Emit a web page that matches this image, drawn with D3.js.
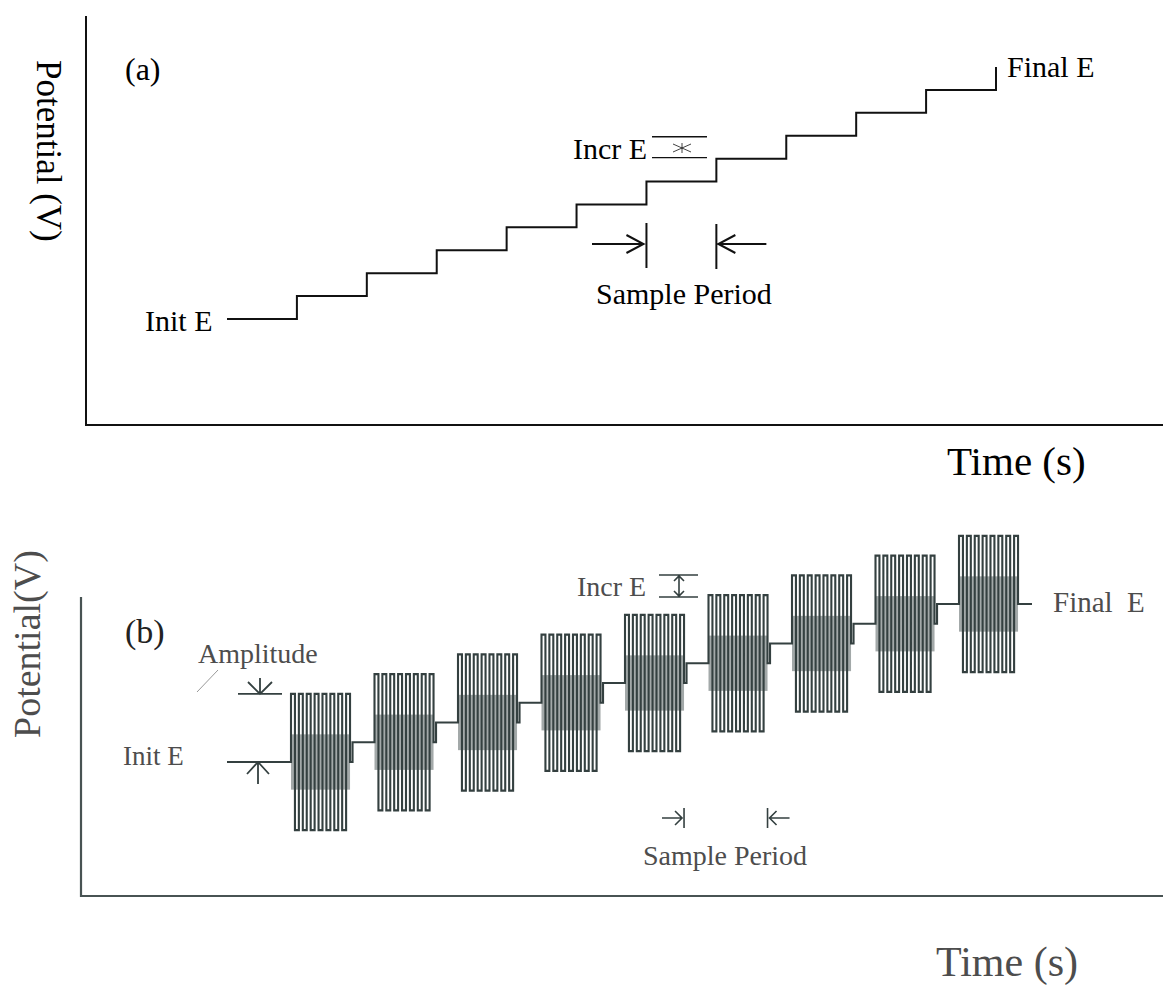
<!DOCTYPE html>
<html>
<head>
<meta charset="utf-8">
<script src="https://cdn.jsdelivr.net/npm/d3@7"></script>
<style>
  body { margin: 0; background: #fff; }
  text { font-family: "Liberation Serif", "Times New Roman", serif; }
</style>
</head>
<body>
<svg id="chart" width="1163" height="985"></svg>
<script>
// (a) staircase: step times (sample periods) and potential levels (Incr E units)
const stairTimes = [0, 1, 2, 3, 4, 5, 6, 7, 8, 9, 10, 11]
const stairLevels = [0, 1, 2, 3, 4, 5, 6, 7, 8, 9, 10, 11]

// (b) square wave riding on the staircase
const blockStarts = [0, 1, 2, 3, 4, 5, 6, 7, 8]
const blockLevels = [0, 1, 2, 3, 4, 5, 6, 7, 8]
const blockWidth = 0.707      // fraction of a sample period
const blockAmp = 3.45         // amplitude in Incr E units
const blockEdges = 15         // square-wave edges per block
const initTimeB = -0.766
const finalTimeB = 8.874

const svg = d3.select('#chart')
const black = '#111'
const scan = '#344040'
const scanText = '#4d4d4d'

// ---------- panel (a) ----------
const xA = d3.scaleLinear().domain([0, 11]).range([227, 996])
const yA = d3.scaleLinear().domain([0, 11]).range([319, 67])

const gA = svg.append('g')

// axes
gA.append('path')
  .attr('d', 'M86,16 V425 H1163')
  .attr('fill', 'none').attr('stroke', black).attr('stroke-width', 2)

const stairLine = d3.line()
  .x(d => xA(d[0]))
  .y(d => yA(d[1]))
  .curve(d3.curveStepAfter)

gA.append('path')
  .datum(stairTimes.map((t, i) => [t, stairLevels[i]]))
  .attr('d', stairLine)
  .attr('fill', 'none').attr('stroke', black).attr('stroke-width', 2)

gA.append('text').attr('x', 125).attr('y', 80).attr('font-size', 32).text('(a)')
gA.append('text').attr('x', 145).attr('y', 331).attr('font-size', 30).text('Init E')
gA.append('text').attr('x', 1007).attr('y', 77).attr('font-size', 30).text('Final E')
gA.append('text').attr('x', 573).attr('y', 159).attr('font-size', 30).text('Incr E')
gA.append('text').attr('x', 596).attr('y', 304).attr('font-size', 30).text('Sample Period')
gA.append('text').attr('x', 947).attr('y', 475).attr('font-size', 41).text('Time (s)')
gA.append('text')
  .attr('transform', 'translate(37,60) rotate(90)')
  .attr('font-size', 35).text('Potential (V)')

// Incr E marker
const incrTop = yA(8) + 1, incrBot = yA(7) - 1
gA.append('path')
  .attr('d', `M652,${incrTop} H707 M652,${incrBot} H707`)
  .attr('stroke', black).attr('stroke-width', 1.3).attr('fill', 'none')
gA.append('path')
  .attr('d', 'M682,143 V153 M673,144 L691,152 M673,152 L691,144')
  .attr('stroke', black).attr('stroke-width', 0.8).attr('fill', 'none')

// Sample Period arrows
const spL = xA(6), spR = xA(7)
gA.append('path')
  .attr('d', `M${spL},223 V268 M${spR},224 V269 M592,244 H${spL - 3} M${spL - 20},235 L${spL - 3},244 L${spL - 20},253 M${spR + 50},244 H${spR + 2} M${spR + 19},235 L${spR + 2},244 L${spR + 19},253`)
  .attr('stroke', black).attr('stroke-width', 2).attr('fill', 'none')

// ---------- panel (b) ----------
const xB = d3.scaleLinear().domain([0, 8]).range([291, 959])
const yB = d3.scaleLinear().domain([0, 8]).range([762, 604])

const gB = svg.append('g')

gB.append('path')
  .attr('d', 'M81,597 V896 H1163')
  .attr('fill', 'none').attr('stroke', scan).attr('stroke-width', 2.2).attr('opacity', 0.9)

// build the square wave trace
const pts = [[initTimeB, blockLevels[0]]]
const to = (t, v) => {
  pts.push([t, pts[pts.length - 1][1]])
  pts.push([t, v])
}
const step = blockWidth / blockEdges
blockStarts.forEach((s, k) => {
  const lv = blockLevels[k]
  to(s, lv)
  for (let i = 0; i < blockEdges; i++) {
    to(s + i * step, lv + (i % 2 === 0 ? blockAmp : -blockAmp))
  }
  to(s + blockWidth, lv)
  if (k < blockStarts.length - 1) to(s + blockWidth + 0.03, blockLevels[k + 1])
  else to(finalTimeB, lv)
})

// darker middle band from the dense overlap of the scan
gB.selectAll('rect.band')
  .data(blockStarts)
  .join('rect')
  .attr('class', 'band')
  .attr('x', d => xB(d))
  .attr('width', xB(blockWidth) - xB(0))
  .attr('y', (d, i) => yB(blockLevels[i] + 1.4))
  .attr('height', yB(0) - yB(2.8))
  .attr('fill', scan).attr('opacity', 0.45)

gB.append('path')
  .datum(pts)
  .attr('d', d3.line().x(d => xB(d[0])).y(d => yB(d[1])))
  .attr('fill', 'none').attr('stroke', scan).attr('stroke-width', 2.1)

gB.append('text').attr('x', 125).attr('y', 643).attr('font-size', 34).attr('fill', '#222').text('(b)')
gB.append('text').attr('x', 123).attr('y', 765).attr('font-size', 27).attr('fill', scanText).text('Init E')
gB.append('text').attr('x', 198).attr('y', 663).attr('font-size', 28).attr('fill', scanText).text('Amplitude')
gB.append('text').attr('x', 577).attr('y', 596).attr('font-size', 28).attr('fill', scanText).text('Incr E')
gB.append('text').attr('x', 1053).attr('y', 612).attr('font-size', 29).attr('fill', scanText)
  .attr('xml:space', 'preserve').style('white-space', 'pre').text('Final  E')
gB.append('text').attr('x', 643).attr('y', 865).attr('font-size', 28).attr('fill', scanText).text('Sample Period')
gB.append('text').attr('x', 936).attr('y', 976).attr('font-size', 42).attr('fill', scanText).text('Time (s)')
gB.append('text')
  .attr('transform', 'translate(40,738) rotate(-90)')
  .attr('font-size', 38).attr('fill', scanText).text('Potential(V)')

// Amplitude marker
const ampTop = yB(blockAmp), initY = yB(0)
gB.append('path')
  .attr('d', `M227,${initY} H${xB(0)} M238,${ampTop} H282 M260,678 V${ampTop} M248,682 L260,${ampTop} L272,682 M258,784 V${initY} M247,774 L258,${initY} L269,774`)
  .attr('stroke', scan).attr('stroke-width', 1.8).attr('fill', 'none')
gB.append('path')
  .attr('d', 'M197,692 L218,670')
  .attr('stroke', '#999').attr('stroke-width', 1).attr('fill', 'none')

// Incr E marker
gB.append('path')
  .attr('d', 'M659,575 H698 M659,597 H698 M679,576 V596 M674,581 L679,576 L684,581 M674,591 L679,596 L684,591')
  .attr('stroke', scan).attr('stroke-width', 1.6).attr('fill', 'none')

// Sample Period arrows
const sbL = xB(4 + blockWidth), sbR = xB(5 + blockWidth)
gB.append('path')
  .attr('d', `M${sbL},808 V828 M${sbR},808 V828 M662,818 H${sbL - 2} M${sbL - 9},811 L${sbL - 2},818 L${sbL - 9},825 M${sbR + 22},818 H${sbR + 2} M${sbR + 9},811 L${sbR + 2},818 L${sbR + 9},825`)
  .attr('stroke', scan).attr('stroke-width', 1.6).attr('fill', 'none')
</script>
</body>
</html>
